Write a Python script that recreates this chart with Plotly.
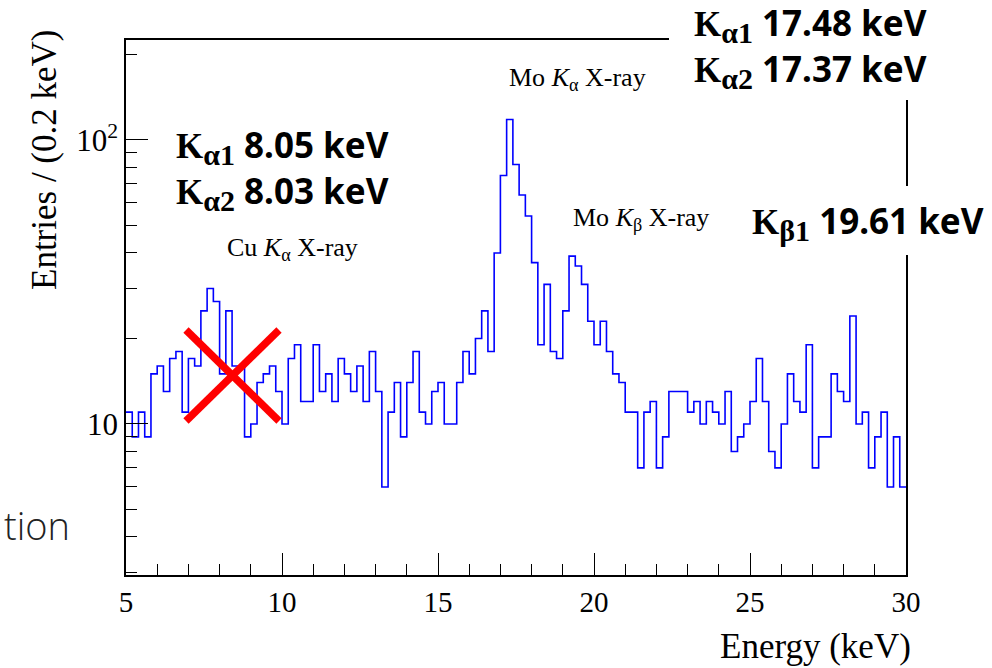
import numpy as np
import plotly.graph_objects as go

# Energy spectrum, 0.2 keV bins from 5 to 30 keV
bin_width = 0.2
e_min = 5.0
counts = [11, 9, 11, 9, 15, 16, 13, 17, 18, 11,
          17, 16, 25, 30, 27, 15, 25, 16, 16, 9,
          10, 14, 15, 16, 13, 10, 17, 19, 12, 12,
          19, 13, 15, 12, 17, 15, 13, 16, 12, 18,
          13, 6, 11, 14, 9, 14, 18, 11, 10, 13,
          14, 10, 10, 14, 18, 15, 20, 25, 18, 40,
          75, 118, 82, 64, 54, 37, 19, 31, 18, 17,
          25, 39, 36, 31, 23, 19, 23, 18, 15, 14,
          11, 11, 7, 11, 12, 7, 9, 13, 13, 13,
          11, 12, 10, 12, 11, 10, 13, 8, 9, 10,
          12, 17, 12, 8, 7, 10, 15, 12, 11, 19,
          7, 9, 9, 15, 13, 12, 24, 10, 11, 7,
          9, 11, 6, 9, 6]

x_ticks = [5, 10, 15, 20, 25, 30]
x_minor = [v for v in range(5, 31) if v % 5]
y_ticks = [10, 100]
y_ticklabels = ["10", "10<sup>2</sup>"]
y_minor = [3, 4, 5, 6, 7, 8, 9, 20, 30, 40, 50, 60, 70, 80, 90, 200]

edges = e_min + bin_width * np.arange(len(counts) + 1)
steps = counts + [counts[-1]]

W, H = 992, 668
L, R, T, B = 126, 86, 40, 93
pw, ph = W - L - R, H - T - B


def px(x):
    return (x - L) / pw


def py(y):
    return (H - B - y) / ph


fig = go.Figure()
fig.add_trace(go.Scatter(
    x=edges, y=steps, mode="lines", line_shape="hv",
    line=dict(color="#0000ff", width=1.6), showlegend=False, hoverinfo="skip"))

serif = "Liberation Serif"
axis_common = dict(showline=True, mirror=True, linecolor="black", linewidth=1.5,
                   ticks="inside", tickwidth=1.3, tickcolor="black", showgrid=False,
                   zeroline=False)

fig.update_xaxes(range=[5, 30], tickvals=x_ticks, ticklen=22,
                 tickfont=dict(family=serif, size=29, color="black"),
                 minor=dict(tickvals=x_minor, ticks="inside", ticklen=11, tickcolor="black"),
                 **axis_common)
fig.update_yaxes(type="log", range=[0.468, 2.352], tickvals=y_ticks, ticktext=y_ticklabels,
                 ticklen=22, tickfont=dict(family=serif, size=31, color="black"),
                 minor=dict(tickvals=y_minor, ticks="inside", ticklen=11, tickcolor="black"),
                 **axis_common)

# white panels behind the line-energy notes (they hide part of the frame)
panel = dict(type="rect", xref="paper", yref="paper", fillcolor="white",
             line=dict(width=0), layer="above")
fig.add_shape(x0=px(669), x1=px(W + 2), y0=py(-2), y1=py(100), **panel)
fig.add_shape(x0=px(738), x1=px(W + 2), y0=py(186), y1=py(255), **panel)

ann = []
# axis titles
ann.append(dict(text="Energy (keV)", x=px(913), y=py(646), xanchor="right", yanchor="middle",
                font=dict(family=serif, size=35, color="black")))
ann.append(dict(text="Entries / (0.2 keV)", x=px(45), y=py(28), textangle=-90,
                xanchor="center", yanchor="top",
                font=dict(family=serif, size=35, color="black")))
# peak labels
lab = dict(family=serif, size=26, color="black")
ann.append(dict(text="Mo <i>K</i><sub>α</sub> X-ray", x=px(577), y=py(79),
                xanchor="center", yanchor="middle", font=lab))
ann.append(dict(text="Mo <i>K</i><sub>β</sub> X-ray", x=px(641), y=py(219),
                xanchor="center", yanchor="middle", font=lab))
ann.append(dict(text="Cu <i>K</i><sub>α</sub> X-ray", x=px(292), y=py(249),
                xanchor="center", yanchor="middle", font=lab))

bold = dict(family="Noto Sans", size=35, color="black", weight="bold")


def kline(sub, rest):
    return ('<span style="font-family:Liberation Serif">K<sub>'
            '<span style="font-size:30px">%s</span></sub></span> %s' % (sub, rest))


notes = [(kline("α1", "17.48 keV") + "<br>" + kline("α2", "17.37 keV"), 692, 47),
         (kline("β1", "19.61 keV"), 750, 222),
         (kline("α1", "8.05 keV") + "<br>" + kline("α2", "8.03 keV"), 174, 169)]
for text, nx, ny in notes:
    ann.append(dict(text=text, x=px(nx), y=py(ny), xanchor="left", yanchor="middle",
                    align="left", font=bold))

ann.append(dict(text="tion", x=px(72), y=py(525), xanchor="right", yanchor="middle",
                font=dict(family="Open Sans", size=38, color="#222", weight=300)))

for a in ann:
    a.setdefault("xref", "paper")
    a.setdefault("yref", "paper")
    a.setdefault("showarrow", False)
fig.update_layout(annotations=ann)

# red cross over the copper line
cross = dict(type="line", xref="paper", yref="paper", line=dict(color="#ff0000", width=7.5),
             layer="above")
fig.add_shape(x0=px(186), y0=py(330), x1=px(279), y1=py(421), **cross)
fig.add_shape(x0=px(186), y0=py(421), x1=px(279), y1=py(330), **cross)

fig.update_layout(width=W, height=H, margin=dict(l=L, r=R, t=T, b=B),
                  paper_bgcolor="white", plot_bgcolor="white")
fig.write_html("out.html")
